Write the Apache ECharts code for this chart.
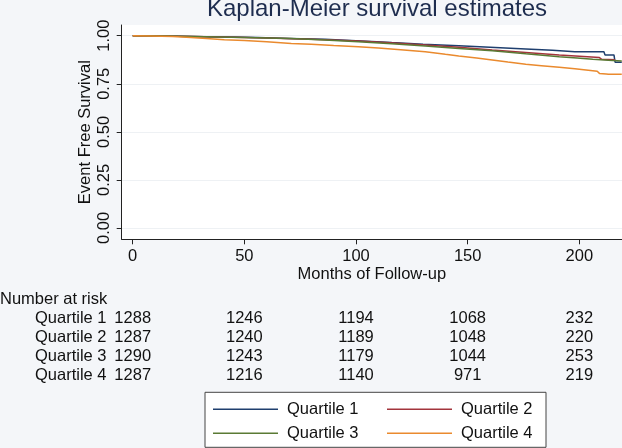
<!DOCTYPE html>
<html>
<head>
<meta charset="utf-8">
<script src="https://cdn.jsdelivr.net/npm/echarts@6/dist/echarts.min.js"></script>
<style>
  html, body { margin: 0; padding: 0; background: #f4f6f9; }
  #chart { width: 622px; height: 448px; }
</style>
</head>
<body>
<div id="chart"></div>
<script>
// survival curves, [month, survival]
const q1 = [[0,1],[15,0.998],[32,0.995],[45,0.993],[56,0.990],[70,0.986],[86,0.981],[100,0.974],[116,0.964],[130,0.956],[146,0.948],[160,0.940],[176,0.931],[188,0.924],[198,0.917],[211,0.916],[211.5,0.900],[215.5,0.900],[216,0.862],[219,0.862]];
const q2 = [[0,1],[20,0.997],[40,0.993],[60,0.988],[80,0.981],[101,0.972],[115,0.963],[131,0.952],[146,0.940],[161,0.926],[176,0.913],[191,0.900],[200,0.893],[209,0.886],[210,0.877],[216,0.875]];
const q3 = [[0,1],[15,0.998],[32,0.995],[50,0.991],[71,0.986],[86,0.978],[101,0.969],[116,0.958],[131,0.946],[146,0.934],[161,0.922],[176,0.906],[191,0.891],[199,0.884],[206,0.877],[213,0.872],[219,0.868]];
const q4 = [[0,1],[8,0.999],[18,0.996],[26,0.991],[33,0.986],[41,0.979],[50,0.975],[60,0.968],[71,0.960],[80,0.955],[90,0.949],[101,0.943],[110,0.936],[120,0.927],[131,0.917],[140,0.903],[146,0.894],[154,0.884],[161,0.874],[168,0.863],[176,0.851],[183,0.844],[191,0.836],[198,0.828],[206,0.818],[208,0.815],[209,0.804],[212,0.801],[213,0.799],[219,0.799]];

const groupNames = ['Quartile 1', 'Quartile 2', 'Quartile 3', 'Quartile 4'];
const xTicks = [0, 50, 100, 150, 200];
const yTicks = [0, 0.25, 0.5, 0.75, 1];

// number at risk, one row per quartile, columns at xTicks
const riskQ1 = [1288, 1246, 1194, 1068, 232];
const riskQ2 = [1287, 1240, 1189, 1048, 220];
const riskQ3 = [1290, 1243, 1179, 1044, 253];
const riskQ4 = [1287, 1216, 1140, 971, 219];

const FONT = "'Liberation Sans', Arial, sans-serif";
const colors = ['#1f3f6e', '#a3343c', '#5a7a34', '#ea8a2e'];

const chart = echarts.init(document.getElementById('chart'), null, { renderer: 'canvas' });

function lineSeries(name, data, color) {
    return {
        name,
        type: 'line',
        symbol: 'none',
        data,
        lineStyle: { color, width: 1.5 },
        itemStyle: { color },
        emphasis: { disabled: true },
    };
}

const legendCol1 = { width: 100, padding: [0, 0, 0, 4] };
const legendCol2 = { width: 73, padding: [0, 0, 0, 4] };

chart.setOption({
    animation: false,
    backgroundColor: '#f4f6f9',
    textStyle: { fontFamily: FONT },
    grid: {
        left: 121.7, top: 25, right: 0, bottom: 208.7,
        show: true, backgroundColor: '#ffffff', borderWidth: 0,
    },
    xAxis: {
        type: 'value',
        min: -4.93, max: 219.1,
        name: 'Months of Follow-up',
        nameLocation: 'middle',
        nameGap: 25,
        nameTextStyle: { fontSize: 16.5, color: '#111', fontFamily: FONT },
        axisLine: { onZero: false, lineStyle: { color: '#222', width: 1 } },
        axisTick: { customValues: xTicks, length: 5, lineStyle: { color: '#222' } },
        axisLabel: { customValues: xTicks, margin: 9, fontSize: 16.5, color: '#111', fontFamily: FONT },
        splitLine: { show: false },
    },
    yAxis: {
        type: 'value',
        min: -0.0588, max: 1.0556,
        name: 'Event Free Survival',
        nameLocation: 'middle',
        nameGap: 28,
        nameMoveOverlap: false,
        nameTextStyle: { fontSize: 16.5, color: '#111', fontFamily: FONT },
        axisLine: { show: true, onZero: false, lineStyle: { color: '#222', width: 1 } },
        axisTick: { show: true, customValues: yTicks, length: 5, lineStyle: { color: '#222' } },
        axisLabel: {
            customValues: yTicks, rotate: 90, margin: 9, fontSize: 16.5, color: '#111', fontFamily: FONT,
            formatter: v => v.toFixed(2),
        },
        splitLine: { show: true, lineStyle: { color: '#eef1f4', width: 1 } },
    },
    legend: {
        left: 205, top: 392.3,
        width: 325,
        padding: [5, 12, 2, 8],
        itemGap: 0,
        icon: 'rect',
        itemWidth: 65, itemHeight: 1.5,
        backgroundColor: '#ffffff',
        borderColor: '#444', borderWidth: 1, borderRadius: 0,
        textStyle: { fontSize: 16.5, color: '#111', lineHeight: 24, fontFamily: FONT },
        data: [
            { name: groupNames[0], textStyle: legendCol1 },
            { name: groupNames[1], textStyle: legendCol2 },
            { name: groupNames[2], textStyle: legendCol1 },
            { name: groupNames[3], textStyle: legendCol2 },
        ],
    },
    series: [
        lineSeries(groupNames[0], q1, colors[0]),
        lineSeries(groupNames[1], q2, colors[1]),
        lineSeries(groupNames[2], q3, colors[2]),
        lineSeries(groupNames[3], q4, colors[3]),
    ],
});

// title and number-at-risk table, placed with the x axis scale
const riskRows = [riskQ1, riskQ2, riskQ3, riskQ4];
const rowY = [318.3, 337.3, 356.7, 375];
const elements = [{
    type: 'text', x: 377, y: 9,
    style: { text: 'Kaplan-Meier survival estimates', font: `24px ${FONT}`, fill: '#1e2d4f', textAlign: 'center', textVerticalAlign: 'middle' },
}, {
    type: 'text', x: 0, y: 299,
    style: { text: 'Number at risk', font: `16.5px ${FONT}`, fill: '#111', textAlign: 'left', textVerticalAlign: 'middle' },
}];
riskRows.forEach((row, i) => {
    elements.push({
        type: 'text', x: 35, y: rowY[i],
        style: { text: groupNames[i], font: `16.5px ${FONT}`, fill: '#111', textAlign: 'left', textVerticalAlign: 'middle' },
    });
    row.forEach((n, j) => {
        const px = chart.convertToPixel({ xAxisIndex: 0 }, xTicks[j]);
        elements.push({
            type: 'text', x: px, y: rowY[i],
            style: { text: String(n), font: `16.5px ${FONT}`, fill: '#111', textAlign: 'center', textVerticalAlign: 'middle' },
        });
    });
});
chart.setOption({ graphic: { elements } });
</script>
</body>
</html>
